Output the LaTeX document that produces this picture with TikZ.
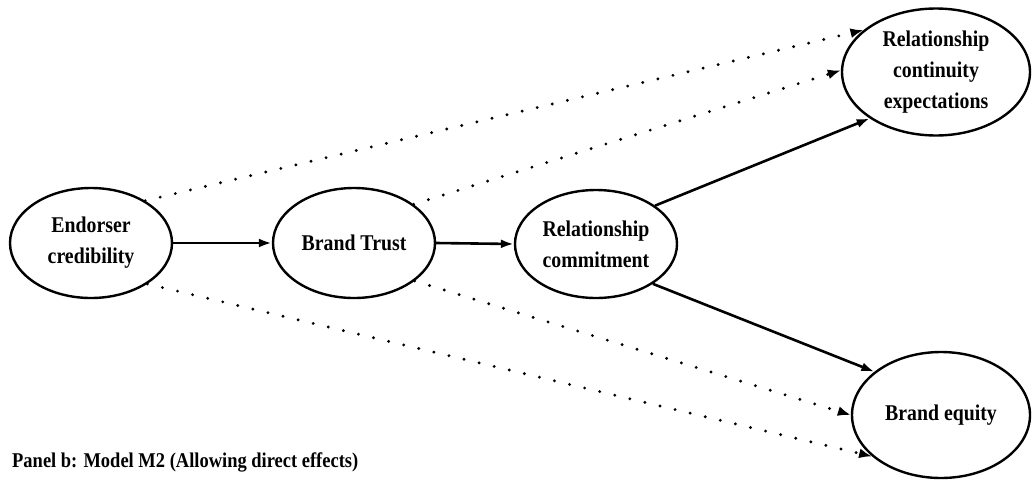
\documentclass[tikz,border=0pt]{standalone}
\usepackage{fontspec}
\setmainfont{Liberation Serif}[FakeStretch=0.88]
\usetikzlibrary{shapes.geometric,arrows.meta}

\tikzset{
  construct/.style={draw, ellipse, line width=2.4pt, inner sep=0pt,
    font=\fontsize{22.5}{31}\selectfont\bfseries, align=center},
  path link/.style={line width=2.6pt, -{Latex[length=13pt,width=9pt]}},
  direct link/.style={line width=3.2pt, line cap=round,
    dash pattern=on 0pt off 15.5pt, -{Latex[length=13pt,width=10pt]}},
  caption/.style={font=\fontsize{21}{25}\selectfont\bfseries, anchor=base west, inner sep=0pt}
}

\begin{document}
\begin{tikzpicture}[x=1pt,y=-1pt]
  \useasboundingbox (0,0) rectangle (1033,480);

  % constructs
  \node[construct, minimum width=162pt, minimum height=110pt] (ec) at (91,243) {Endorser\\credibility};
  \node[construct, minimum width=162pt, minimum height=110pt] (bt) at (354,243) {Brand Trust};
  \node[construct, minimum width=162pt, minimum height=108pt] (rc) at (596,244) {Relationship\\commitment};
  \node[construct, minimum width=188pt, minimum height=127pt] (rce) at (936,72) {Relationship\\continuity\\expectations};
  \node[construct, minimum width=178pt, minimum height=126pt] (be) at (941,415) {Brand equity};

  % mediated paths
  \draw[path link] (ec.east) -- (bt.west);
  \draw[path link] (bt.east) -- (rc.west);
  \draw[path link] (rc.33) -- (rce.215);
  \draw[path link] (rc.-35) -- (be.147);

  % direct effects
  \draw[direct link] (ec.38) -- (rce.150);
  \draw[direct link] (bt.33) -- (rce.179);
  \draw[direct link] (bt.-32) -- (be.180);
  \draw[direct link] (ec.-36) -- (be.211);

  \node[caption] (cap) at (12,467) {Panel b: Model M2 (Allowing direct effects)};
\end{tikzpicture}
\end{document}
